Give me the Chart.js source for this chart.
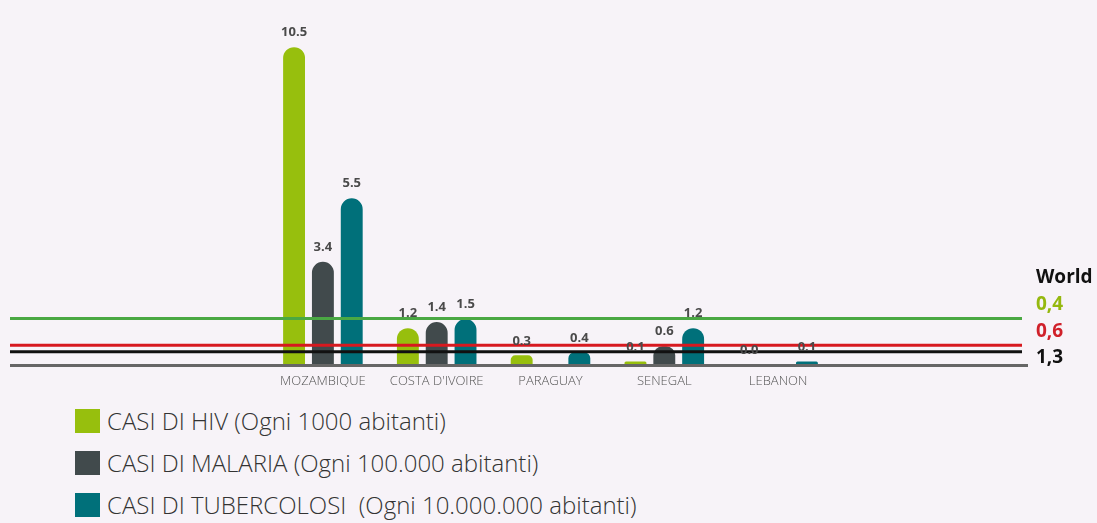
<!DOCTYPE html>
<html>
<head>
<meta charset="utf-8">
<script src="https://cdn.jsdelivr.net/npm/chart.js@4/dist/chart.umd.min.js"></script>
<style>
  html, body { margin: 0; padding: 0; background: #f7f3f8; }
  body { width: 1097px; height: 523px; position: relative; overflow: hidden; font-family: "Open Sans", sans-serif; }
  #wrap { position: absolute; left: 0; top: 0; width: 1097px; height: 400px; }
  #legend { position: absolute; left: 75px; top: 409px; }
  .item { height: 42px; display: flex; align-items: flex-start; }
  .box { width: 25px; height: 24px; margin-right: 7px; }
  .txt { font-size: 24px; font-weight: 300; color: #333; line-height: 24px; }
</style>
</head>
<body>
<div id="wrap"><canvas id="chart"></canvas></div>
<div id="legend"></div>
<script>
// categories and values
const countries = ['MOZAMBIQUE', "COSTA D'IVOIRE", 'PARAGUAY', 'SENEGAL', 'LEBANON'];
const hivCases = [10.5, 1.2, 0.3, 0.1, 0.0];
const malariaCases = [3.4, 1.4, null, 0.6, null];
const tbCases = [5.5, 1.5, 0.4, 1.2, 0.1];

const seriesNames = [
    'CASI DI HIV (Ogni 1000 abitanti)',
    'CASI DI MALARIA (Ogni 100.000 abitanti)',
    'CASI DI TUBERCOLOSI\u00a0 (Ogni 10.000.000 abitanti)'
];
const seriesColors = ['#97bf0d', '#414a4c', '#00707a'];

// world reference lines (level on the bar scale, as drawn) and their labels
const worldLevels = [1.52, 0.63, 0.42];
const worldLabels = ['0,4', '0,6', '1,3'];
const worldColors = ['#4aa843', '#d7191f', '#111111'];

// draws the horizontal world lines, the baseline and the value labels
const overlayPlugin = {
    id: 'overlay',
    afterDatasetsDraw(chart) {
        const ctx = chart.ctx;
        const yScale = chart.scales.y;
        ctx.save();

        // baseline
        const y0 = yScale.getPixelForValue(0);
        ctx.strokeStyle = '#666666';
        ctx.lineWidth = 3;
        ctx.beginPath();
        ctx.moveTo(10, y0 + 1);
        ctx.lineTo(1028, y0 + 1);
        ctx.stroke();

        worldLevels.forEach((lvl, i) => {
            const y = yScale.getPixelForValue(lvl);
            ctx.strokeStyle = worldColors[i];
            ctx.lineWidth = 3;
            ctx.beginPath();
            ctx.moveTo(10, y);
            ctx.lineTo(1022, y);
            ctx.stroke();
        });

        // value labels above each bar
        ctx.font = 'bold 13px "Open Sans"';
        ctx.fillStyle = '#4a4a4a';
        ctx.textAlign = 'center';
        ctx.textBaseline = 'bottom';
        chart.data.datasets.forEach((ds, di) => {
            const meta = chart.getDatasetMeta(di);
            meta.data.forEach((bar, i) => {
                const v = ds.data[i];
                if (v === null || v === undefined) return;
                ctx.fillText(v.toFixed(1), bar.x, bar.y - 8);
            });
        });

        // world labels on the right
        ctx.textAlign = 'left';
        ctx.textBaseline = 'middle';
        ctx.font = 'bold 19px "Open Sans"';
        ctx.fillStyle = '#111111';
        ctx.fillText('World', 1036, 278);
        const labelY = [305, 332, 358];
        const labelColors = ['#95b80f', '#d0202a', '#111111'];
        worldLabels.forEach((t, i) => {
            ctx.fillStyle = labelColors[i];
            ctx.fillText(t, 1036, labelY[i]);
        });
        ctx.restore();
    }
};

const datasets = [hivCases, malariaCases, tbCases].map((values, i) => ({
    label: seriesNames[i],
    data: values,
    backgroundColor: seriesColors[i],
    borderRadius: { topLeft: 11, topRight: 11, bottomLeft: 0, bottomRight: 0 },
    borderSkipped: 'bottom',
    barPercentage: 0.76,
    categoryPercentage: 0.76
}));

new Chart(document.getElementById('chart'), {
    type: 'bar',
    data: { labels: countries, datasets: datasets },
    options: {
        responsive: true,
        maintainAspectRatio: false,
        animation: false,
        layout: { padding: { left: 266, right: 262, top: 10, bottom: 2 } },
        plugins: {
            legend: { display: false },
            tooltip: { enabled: false }
        },
        scales: {
            x: {
                grid: { display: false, drawTicks: false },
                border: { display: false },
                ticks: {
                    padding: 9,
                    color: '#555555',
                    font: { family: 'Open Sans', size: 13, weight: 300 }
                }
            },
            y: {
                display: false,
                min: 0,
                max: 11.73
            }
        }
    },
    plugins: [overlayPlugin]
});

// legend below the chart
const legend = document.getElementById('legend');
seriesNames.forEach((name, i) => {
    const row = document.createElement('div');
    row.className = 'item';
    row.innerHTML = `<div class="box" style="background:${seriesColors[i]}"></div><span class="txt">${name}</span>`;
    legend.appendChild(row);
});
</script>
</body>
</html>
